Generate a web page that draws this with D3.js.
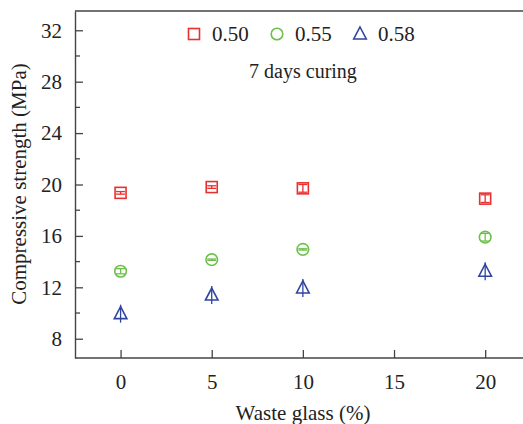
<!DOCTYPE html>
<html>
<head>
<meta charset="utf-8">
<script src="https://cdn.jsdelivr.net/npm/d3@7"></script>
<style>
  body { margin: 0; background: #fff; }
</style>
</head>
<body>
<div id="chart-area"></div>
<script>
// SVG Size
let width = 523,
	height = 424;

let serifFont = "'Liberation Serif', 'Times New Roman', serif";

// data
let wasteGlass = [0, 5, 10, 20];
let ratios = ["0.50", "0.55", "0.58"];
let strength050 = [19.35, 19.8, 19.7, 18.9];
let strength055 = [13.25, 14.15, 14.95, 15.9];
let strength058 = [9.95, 11.4, 11.95, 13.25];
let err050 = [0.1, 0.1, 0.3, 0.3];
let err055 = [0.2, 0.05, 0.05, 0.3];
let err058 = [0.7, 0.7, 0.7, 0.7];
let xTicks = [0, 5, 10, 15, 20];
let yTicks = [8, 12, 16, 20, 24, 28, 32];
let yMinorTicks = [10, 14, 18, 22, 26, 30];

let colors = ["#e8312f", "#6cc04a", "#2e45a0"];
let shapes = ["square", "circle", "triangle"];

let series = [
	{ name: ratios[0], values: strength050, err: err050 },
	{ name: ratios[1], values: strength055, err: err055 },
	{ name: ratios[2], values: strength058, err: err058 }
];

let svg = d3.select("#chart-area").append("svg").attr("width", width).attr("height", height);

let plotLeft = 75, plotTop = 11, plotBottom = 358;
let xScale = d3.scaleLinear().domain([-2.5, 22.5]).range([plotLeft, plotLeft + 25 * 18.23]);
let yScale = d3.scaleLinear().domain([6.5, 33.5]).range([plotBottom, plotTop]);

let axisColor = "#444";

// frame: top line + left/bottom axes
svg.append("line").attr("x1", plotLeft).attr("x2", width).attr("y1", plotTop).attr("y2", plotTop)
	.attr("stroke", axisColor).attr("stroke-width", 1.4);

let xAxis = d3.axisBottom(xScale).tickValues(xTicks).tickSizeInner(-8).tickSizeOuter(0).tickPadding(16);
let yAxis = d3.axisLeft(yScale).tickValues(yTicks).tickSizeInner(-8).tickSizeOuter(0).tickPadding(13);

let gx = svg.append("g").attr("transform", "translate(0," + plotBottom + ")").call(xAxis);
let gy = svg.append("g").attr("transform", "translate(" + plotLeft + ",0)").call(yAxis);

[gx, gy].forEach(g => {
	g.select(".domain").attr("stroke", axisColor).attr("stroke-width", 1.4);
	g.selectAll(".tick line").attr("stroke", axisColor).attr("stroke-width", 1.3);
	g.selectAll(".tick text").style("font-family", serifFont).style("font-size", "21px").attr("fill", "#222");
});
gx.select(".domain").attr("d", "M" + plotLeft + ",0H" + width);

// minor y ticks
svg.append("g").selectAll("line").data(yMinorTicks).enter().append("line")
	.attr("x1", plotLeft).attr("x2", plotLeft + 5)
	.attr("y1", d => yScale(d)).attr("y2", d => yScale(d))
	.attr("stroke", axisColor).attr("stroke-width", 1.3);

// markers
function drawMarker(g, shape, color, x, y) {
	if (shape === "square") {
		g.append("rect").attr("x", x - 5.5).attr("y", y - 5.5).attr("width", 11).attr("height", 11)
			.attr("fill", "none").attr("stroke", color).attr("stroke-width", 1.6);
	} else if (shape === "circle") {
		g.append("circle").attr("cx", x).attr("cy", y).attr("r", 5.8)
			.attr("fill", "none").attr("stroke", color).attr("stroke-width", 1.6);
	} else {
		g.append("path").attr("d", "M" + x + "," + (y - 7) + "L" + (x + 6.3) + "," + (y + 5) + "L" + (x - 6.3) + "," + (y + 5) + "Z")
			.attr("fill", "none").attr("stroke", color).attr("stroke-width", 1.6).attr("stroke-linejoin", "miter");
	}
}

series.forEach((s, i) => {
	let g = svg.append("g");
	s.values.forEach((v, j) => {
		let cx = xScale(wasteGlass[j]);
		let y0 = yScale(v - s.err[j]), y1 = yScale(v + s.err[j]);
		// error bar
		g.append("line").attr("x1", cx).attr("x2", cx).attr("y1", y0).attr("y2", y1)
			.attr("stroke", colors[i]).attr("stroke-width", 1.3);
		if (i < 2) {
			[y0, y1].forEach(yy => g.append("line").attr("x1", cx - 4.5).attr("x2", cx + 4.5)
				.attr("y1", yy).attr("y2", yy).attr("stroke", colors[i]).attr("stroke-width", 1.3));
		}
		drawMarker(g, shapes[i], colors[i], cx, yScale(v));
	});
});

// legend
let legendX = [194, 277, 360];
series.forEach((s, i) => {
	let g = svg.append("g");
	drawMarker(g, shapes[i], colors[i], legendX[i], 34);
	g.append("text").attr("x", legendX[i] + 18).attr("y", 41)
		.style("font-family", serifFont).style("font-size", "21px").attr("fill", "#222").text(s.name);
});

svg.append("text").attr("x", 303).attr("y", 78).attr("text-anchor", "middle")
	.style("font-family", serifFont).style("font-size", "20px").attr("fill", "#222").text("7 days curing");

// axis labels
svg.append("text").attr("x", 303).attr("y", 420).attr("text-anchor", "middle")
	.style("font-family", serifFont).style("font-size", "21px").attr("fill", "#222").text("Waste glass (%)");

svg.append("text").attr("transform", "translate(26," + 184 + ") rotate(-90)")
	.attr("text-anchor", "middle").style("font-family", serifFont).style("font-size", "21px").attr("fill", "#222")
	.text("Compressive strength (MPa)");
</script>
</body>
</html>
